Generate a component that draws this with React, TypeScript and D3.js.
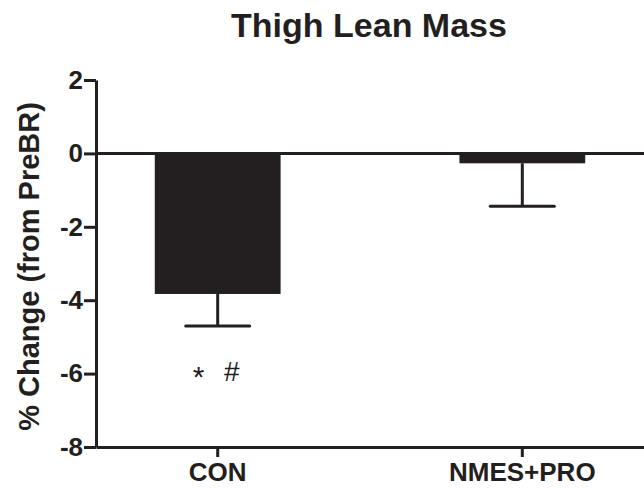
import * as d3 from 'd3';
import { useEffect, useRef } from 'react';

const categories = ['CON', 'NMES+PRO'];
const means = [-3.83, -0.27];
const sems = [0.87, 1.17];
const yTicks = [2, 0, -2, -4, -6, -8];
const marks = ['*', '#'];

const W = 644;
const H = 488;
const ink = '#231f20';
const font = 'Arial, "Liberation Sans", Helvetica, sans-serif';

const App = () => {
  const ref = useRef<SVGSVGElement>(null);

  useEffect(() => {
    const svg = d3.select(ref.current);
    svg.selectAll('*').remove();

    const margin = { top: 80, right: 0, bottom: 41, left: 96 };

    const x = d3
      .scaleBand()
      .domain(categories)
      .range([margin.left, W - margin.right])
      .paddingInner(0.587)
      .paddingOuter(0.193);

    const y = d3
      .scaleLinear()
      .domain([-8, 2])
      .range([H - margin.bottom, margin.top]);

    // title
    svg
      .append('text')
      .attr('x', 369)
      .attr('y', 37)
      .attr('text-anchor', 'middle')
      .style('font-family', font)
      .style('font-weight', 'bold')
      .style('font-size', '34px')
      .style('fill', ink)
      .text('Thigh Lean Mass');

    // y label
    svg
      .append('text')
      .attr('transform', `translate(39, ${(y(2) + y(-8)) / 2 + 3}) rotate(-90)`)
      .attr('text-anchor', 'middle')
      .style('font-family', font)
      .style('font-weight', 'bold')
      .style('font-size', '29px')
      .style('fill', ink)
      .text('% Change (from PreBR)');

    // bars
    const data = categories.map((c, i) => ({ c, m: means[i], e: sems[i] }));
    svg
      .selectAll('.bar')
      .data(data)
      .enter()
      .append('rect')
      .attr('class', 'bar')
      .attr('x', (d) => x(d.c)!)
      .attr('y', y(0))
      .attr('width', x.bandwidth())
      .attr('height', (d) => y(d.m) - y(0))
      .style('fill', ink);

    // error bars
    const cap = 32;
    const eb = svg.append('g').style('stroke', ink).style('stroke-width', 3);
    data.forEach((d) => {
      const cx = x(d.c)! + x.bandwidth() / 2;
      eb.append('line')
        .attr('x1', cx)
        .attr('x2', cx)
        .attr('y1', y(d.m))
        .attr('y2', y(d.m - d.e));
      eb.append('line')
        .attr('x1', cx - cap)
        .attr('x2', cx + cap)
        .attr('y1', y(d.m - d.e))
        .attr('y2', y(d.m - d.e))
        .style('stroke-linecap', 'round');
    });

    // zero line
    svg
      .append('line')
      .attr('x1', margin.left)
      .attr('x2', W)
      .attr('y1', y(0))
      .attr('y2', y(0))
      .style('stroke', ink)
      .style('stroke-width', 3);

    // y axis
    const yAxis = svg
      .append('g')
      .attr('transform', `translate(${margin.left}, 0)`)
      .call(
        d3
          .axisLeft(y)
          .tickValues(yTicks)
          .tickSize(12)
          .tickSizeOuter(0)
          .tickPadding(1)
          .tickFormat(d3.format('d'))
      );
    yAxis.selectAll('path, line').style('stroke', ink).style('stroke-width', 3);
    yAxis
      .selectAll('text')
      .style('font-family', font)
      .style('font-weight', 'bold')
      .style('font-size', '26px')
      .style('fill', ink)
      .text((d: any) => (d < 0 ? '-' + Math.abs(d) : String(d)));

    // x axis
    const xAxis = svg
      .append('g')
      .attr('transform', `translate(0, ${y(-8)})`)
      .call(d3.axisBottom(x).tickSize(10).tickSizeOuter(0).tickPadding(6));
    xAxis.selectAll('path, line').style('stroke', ink).style('stroke-width', 3);
    xAxis
      .selectAll('text')
      .style('font-family', font)
      .style('font-weight', 'bold')
      .style('font-size', '26px')
      .style('fill', ink);

    // significance marks under CON
    const conX = x('CON')! + x.bandwidth() / 2;
    svg
      .selectAll('.mark')
      .data(marks)
      .enter()
      .append('text')
      .attr('class', 'mark')
      .attr('x', (d, i) => conX - 19 + i * 33)
      .attr('y', (d) => (d === '*' ? 387 : 381))
      .attr('text-anchor', 'middle')
      .style('font-family', font)
      .style('font-size', (d) => (d === '*' ? '30px' : '28px'))
      .style('fill', ink)
      .text((d) => d);
  }, []);

  return (
    <svg
      ref={ref}
      width={W}
      height={H}
      style={{ position: 'absolute', left: 0, top: 0, background: '#fff' }}
    />
  );
};

export default App;
